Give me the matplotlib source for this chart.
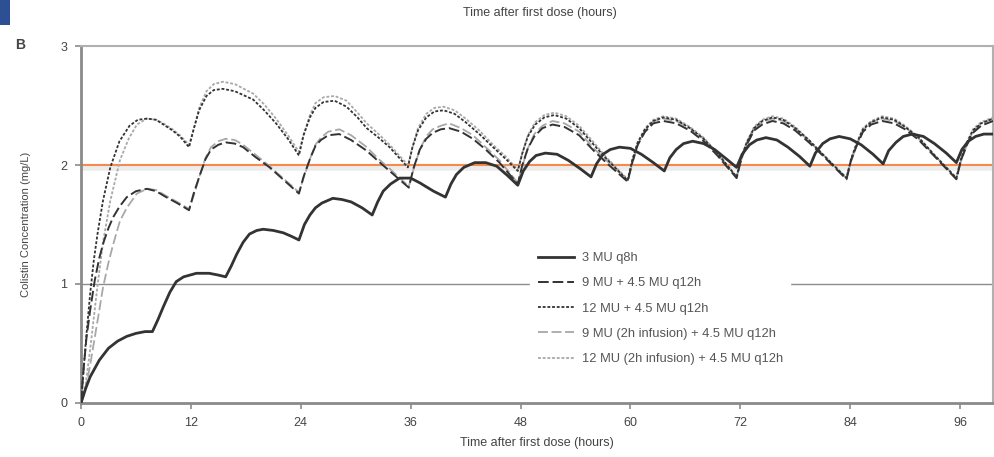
import matplotlib
matplotlib.use("Agg")
import matplotlib.pyplot as plt
from matplotlib.patches import Rectangle

plt.rcParams['font.family'] = ['Liberation Sans', 'DejaVu Sans']

# ---------------- data ----------------
t_q8 = [0, 0.5, 1, 2, 3, 4, 5, 6, 7, 7.8,
        8.4, 9.0, 9.7, 10.4, 11.2, 12.6, 14.0, 15.0, 15.8,
        16.4, 17.0, 17.7, 18.4, 19.2, 19.9, 21.0, 22.1, 23.0, 23.8,
        24.4, 25.0, 25.6, 26.3, 27.5, 28.5, 29.5, 30.7, 31.8,
        32.4, 33.0, 33.8, 34.8, 36.0, 37.0, 38.5, 39.8,
        40.4, 41.0, 41.8, 43.0, 44.2, 45.4, 46.6, 47.7,
        48.3, 49.0, 49.7, 50.7, 52.0, 53.2, 54.5, 55.7,
        56.3, 57.0, 57.8, 58.8, 60.0, 61.2, 62.5, 63.7,
        64.3, 65.0, 65.8, 66.8, 68.0, 69.2, 70.5, 71.6,
        72.2, 73.0, 73.8, 74.8, 76.0, 77.2, 78.5, 79.6,
        80.2, 81.0, 81.8, 82.8, 84.0, 85.2, 86.5, 87.6,
        88.2, 89.0, 89.8, 90.8, 92.0, 93.2, 94.5, 95.6,
        96.2, 96.9, 97.7, 98.6, 99.6]
c_q8 = [0, 0.12, 0.22, 0.36, 0.46, 0.52, 0.56, 0.585, 0.60, 0.60,
        0.70, 0.81, 0.93, 1.02, 1.06, 1.09, 1.09, 1.075, 1.06,
        1.15, 1.25, 1.35, 1.42, 1.45, 1.46, 1.45, 1.43, 1.40, 1.37,
        1.50, 1.58, 1.64, 1.68, 1.72, 1.71, 1.69, 1.64, 1.58,
        1.69, 1.78, 1.84, 1.89, 1.89, 1.85, 1.78, 1.73,
        1.84, 1.92, 1.98, 2.02, 2.02, 1.99, 1.91, 1.83,
        1.95, 2.03, 2.08, 2.10, 2.09, 2.04, 1.97, 1.90,
        2.01, 2.09, 2.13, 2.15, 2.14, 2.09, 2.02, 1.95,
        2.06, 2.13, 2.18, 2.20, 2.18, 2.13, 2.05, 1.98,
        2.09, 2.17, 2.21, 2.23, 2.21, 2.15, 2.07, 1.99,
        2.10, 2.18, 2.22, 2.24, 2.22, 2.17, 2.09, 2.01,
        2.12, 2.19, 2.24, 2.26, 2.24, 2.18, 2.10, 2.02,
        2.13, 2.20, 2.24, 2.26, 2.26]

t_9mu = [0, 0.3, 0.6, 1.0, 1.5, 2.0, 2.5, 3.0, 3.5, 4.2, 5.0, 6.0, 7.2, 8.2, 9.3, 10.5, 11.8,
         12.3, 13.0, 13.6, 14.2, 15.0, 15.8, 16.8, 17.7, 19.0, 20.6, 22.2, 23.8,
         24.3, 25.0, 25.6, 26.2, 27.0, 28.2, 29.5, 31.2, 32.5, 33.7, 35.8,
         36.3, 37.0, 37.7, 38.4, 39.3, 40.2, 41.5, 42.8, 44.2, 45.7, 47.7,
         48.2, 48.8, 49.5, 50.4, 51.5, 52.8, 54.4, 56.0, 57.5, 59.7,
         60.2, 60.8, 61.6, 62.5, 63.6, 65.0, 66.5, 68.0, 69.5, 71.6,
         72.1, 72.7, 73.5, 74.4, 75.5, 76.7, 78.0, 79.5, 81.0, 83.6,
         84.1, 84.7, 85.4, 86.3, 87.5, 88.8, 90.0, 91.5, 93.0, 95.6,
         96.1, 96.7, 97.4, 98.3, 99.6]
c_9mu = [0, 0.30, 0.55, 0.78, 1.03, 1.22, 1.36, 1.47, 1.56, 1.65, 1.73, 1.78, 1.80, 1.78, 1.73, 1.68, 1.62,
         1.76, 1.92, 2.05, 2.13, 2.17, 2.19, 2.18, 2.15, 2.07, 1.98, 1.87, 1.76,
         1.90, 2.05, 2.16, 2.21, 2.25, 2.26, 2.21, 2.12, 2.03, 1.95, 1.81,
         1.97, 2.13, 2.22, 2.27, 2.30, 2.31, 2.28, 2.22, 2.13, 2.02, 1.84,
         2.00, 2.14, 2.24, 2.31, 2.34, 2.32, 2.25, 2.12, 2.01, 1.86,
         2.02, 2.17, 2.28, 2.35, 2.37, 2.35, 2.29, 2.20, 2.08, 1.89,
         2.05, 2.17, 2.29, 2.34, 2.37, 2.35, 2.29, 2.19, 2.08, 1.88,
         2.04, 2.16, 2.28, 2.34, 2.37, 2.35, 2.30, 2.21, 2.09, 1.88,
         2.04, 2.16, 2.27, 2.33, 2.37]

t_12mu = [0, 0.3, 0.6, 1.0, 1.4, 1.8, 2.4, 3.2, 4.2, 5.3, 6.2, 7.2, 8.2, 9.0, 10.0, 10.8, 11.8,
          12.3, 12.9, 13.7, 14.5, 15.5, 16.8, 18.8, 20.0, 21.3, 22.6, 23.8,
          24.3, 25.0, 25.6, 26.5, 27.7, 29.0, 30.2, 31.2, 32.5, 33.7, 35.7,
          36.2, 36.8, 37.7, 38.6, 39.6, 40.8, 42.0, 43.5, 45.0, 46.4, 47.7,
          48.2, 48.8, 49.6, 50.6, 51.7, 53.0, 54.4, 56.0, 57.3, 59.7,
          60.2, 60.8, 61.6, 62.5, 63.6, 65.0, 66.5, 68.0, 69.5, 71.6,
          72.1, 72.7, 73.5, 74.4, 75.5, 76.7, 78.0, 79.5, 81.0, 83.6,
          84.1, 84.7, 85.4, 86.3, 87.5, 88.8, 90.0, 91.5, 93.0, 95.6,
          96.1, 96.7, 97.4, 98.3, 99.6]
c_12mu = [0, 0.30, 0.58, 0.92, 1.20, 1.42, 1.70, 1.98, 2.20, 2.33, 2.38, 2.39, 2.38, 2.34, 2.29, 2.24, 2.15,
          2.30, 2.46, 2.58, 2.63, 2.64, 2.62, 2.55, 2.46, 2.35, 2.22, 2.08,
          2.25, 2.40, 2.48, 2.53, 2.54, 2.49, 2.40, 2.31, 2.23, 2.15, 1.98,
          2.15, 2.29, 2.40, 2.45, 2.46, 2.43, 2.36, 2.26, 2.15, 2.05, 1.95,
          2.10, 2.24, 2.34, 2.40, 2.42, 2.39, 2.31, 2.17, 2.06, 1.87,
          2.04, 2.19, 2.30, 2.37, 2.40, 2.38, 2.31, 2.22, 2.10, 1.90,
          2.06, 2.19, 2.31, 2.37, 2.40, 2.38, 2.31, 2.21, 2.09, 1.89,
          2.05, 2.18, 2.30, 2.36, 2.40, 2.38, 2.32, 2.23, 2.10, 1.89,
          2.05, 2.18, 2.29, 2.35, 2.39]

t_9mu_inf = [0, 0.5, 1.0, 1.5, 2.0, 2.4, 3.0, 3.5, 4.25, 5.0, 6.1, 7.2, 8.2, 9.3, 10.5, 11.8,
             12.3, 13.0, 13.6, 14.2, 15.0, 15.8, 16.8, 17.7, 19.0, 20.6, 22.2, 23.8,
             24.3, 25.0, 25.6, 26.2, 27.0, 28.2, 29.5, 31.2, 32.5, 33.7, 35.8,
             36.3, 37.0, 37.7, 38.4, 39.3, 40.2, 41.5, 42.8, 44.2, 45.7, 47.7,
             48.2, 48.8, 49.5, 50.4, 51.5, 52.8, 54.4, 56.0, 57.5, 59.7,
             60.2, 60.8, 61.6, 62.5, 63.6, 65.0, 66.5, 68.0, 69.5, 71.6,
             72.1, 72.7, 73.5, 74.4, 75.5, 76.7, 78.0, 79.5, 81.0, 83.6,
             84.1, 84.7, 85.4, 86.3, 87.5, 88.8, 90.0, 91.5, 93.0, 95.6,
             96.1, 96.7, 97.4, 98.3, 99.6]
c_9mu_inf = [0, 0.12, 0.32, 0.55, 0.78, 0.97, 1.18, 1.33, 1.53, 1.64, 1.76, 1.80, 1.79, 1.74, 1.69, 1.63,
             1.74, 1.92, 2.06, 2.15, 2.20, 2.22, 2.21, 2.17, 2.09, 1.99, 1.88, 1.77,
             1.89, 2.05, 2.17, 2.23, 2.28, 2.30, 2.25, 2.15, 2.05, 1.97, 1.82,
             1.96, 2.13, 2.24, 2.30, 2.33, 2.35, 2.31, 2.25, 2.15, 2.04, 1.85,
             1.99, 2.14, 2.26, 2.33, 2.37, 2.35, 2.28, 2.14, 2.03, 1.87,
             2.01, 2.17, 2.29, 2.37, 2.39, 2.37, 2.31, 2.22, 2.09, 1.90,
             2.04, 2.17, 2.30, 2.36, 2.39, 2.37, 2.31, 2.20, 2.09, 1.89,
             2.03, 2.16, 2.29, 2.36, 2.39, 2.37, 2.32, 2.22, 2.10, 1.89,
             2.03, 2.16, 2.28, 2.35, 2.39]

t_12mu_inf = [0, 0.5, 1.0, 1.7, 2.4, 3.2, 4.25, 5.2, 6.1, 7.2, 8.2, 9.0, 10.0, 10.8, 11.8,
              12.3, 12.9, 13.7, 14.5, 15.5, 16.8, 18.8, 20.0, 21.3, 22.6, 23.8,
              24.3, 25.0, 25.6, 26.5, 27.7, 29.0, 30.2, 31.2, 32.5, 33.7, 35.7,
              36.2, 36.8, 37.7, 38.6, 39.6, 40.8, 42.0, 43.5, 45.0, 46.4, 47.7,
              48.2, 48.8, 49.6, 50.6, 51.7, 53.0, 54.4, 56.0, 57.3, 59.7,
              60.2, 60.8, 61.6, 62.5, 63.6, 65.0, 66.5, 68.0, 69.5, 71.6,
              72.1, 72.7, 73.5, 74.4, 75.5, 76.7, 78.0, 79.5, 81.0, 83.6,
              84.1, 84.7, 85.4, 86.3, 87.5, 88.8, 90.0, 91.5, 93.0, 95.6,
              96.1, 96.7, 97.4, 98.3, 99.6]
c_12mu_inf = [0, 0.15, 0.45, 0.92, 1.35, 1.70, 2.04, 2.22, 2.34, 2.39, 2.38, 2.35, 2.30, 2.25, 2.17,
              2.30, 2.48, 2.62, 2.68, 2.70, 2.68, 2.60, 2.51, 2.39, 2.25, 2.11,
              2.25, 2.42, 2.52, 2.57, 2.58, 2.54, 2.44, 2.35, 2.26, 2.17, 2.00,
              2.15, 2.31, 2.43, 2.48, 2.49, 2.46, 2.39, 2.29, 2.17, 2.07, 1.96,
              2.10, 2.25, 2.36, 2.42, 2.44, 2.41, 2.33, 2.19, 2.07, 1.88,
              2.04, 2.19, 2.31, 2.38, 2.41, 2.39, 2.32, 2.23, 2.10, 1.90,
              2.06, 2.19, 2.32, 2.38, 2.41, 2.39, 2.32, 2.21, 2.09, 1.89,
              2.05, 2.18, 2.31, 2.37, 2.41, 2.39, 2.33, 2.23, 2.10, 1.89,
              2.05, 2.18, 2.30, 2.36, 2.40]

labels = ["3 MU q8h", "9 MU + 4.5 MU q12h", "12 MU + 4.5 MU q12h",
          "9 MU (2h infusion) + 4.5 MU q12h", "12 MU (2h infusion) + 4.5 MU q12h"]
x_ticks = [0, 12, 24, 36, 48, 60, 72, 84, 96]
y_ticks = [0, 1, 2, 3]
target_level = 2
ref_level = 1
x_label = "Time after first dose (hours)"
y_label = "Colistin Concentration (mg/L)"

# ---------------- figure ----------------
fig = plt.figure(figsize=(9.94, 4.57), dpi=100)
ax = fig.add_axes([0.0815, 0.1182, 0.9175, 0.7811])

dark = "#333333"
light = "#a8a8a8"
spine_c = "#8a8a8a"

# reference lines
ax.axhline(ref_level, color="#8c8c8c", lw=1.0, zorder=1)
ax.axhline(target_level - 0.025, color="#ececec", lw=4, zorder=1)
ax.axhline(target_level, color="#f58a4b", lw=1.5, zorder=2)

l5, = ax.plot(t_12mu_inf, c_12mu_inf, color=light, lw=1.3, dashes=(1.6, 1.0), zorder=3)
l4, = ax.plot(t_9mu_inf, c_9mu_inf, color=light, lw=1.3, dashes=(5.5, 2.0), zorder=3)
l3, = ax.plot(t_12mu, c_12mu, color=dark, lw=1.3, dashes=(1.6, 1.0), zorder=4)
l2, = ax.plot(t_9mu, c_9mu, color=dark, lw=1.4, dashes=(5.5, 2.0), zorder=4)
l1, = ax.plot(t_q8, c_q8, color=dark, lw=2.0, solid_joinstyle="round", zorder=5)

ax.set_xlim(0, 99.6)
ax.set_ylim(0, 3)
ax.set_xticks(x_ticks)
ax.set_yticks(y_ticks)
ax.tick_params(axis="both", direction="out", length=4, width=1.2, color=spine_c,
               labelsize=9, labelcolor="#444444", pad=6)

for s in ["left", "bottom"]:
    ax.spines[s].set_color(spine_c)
    ax.spines[s].set_linewidth(2.0)
for s in ["top", "right"]:
    ax.spines[s].set_color("#b0b0b0")
    ax.spines[s].set_linewidth(1.5)

ax.set_xlabel(x_label, fontsize=9, color="#444444", labelpad=6)
ax.set_ylabel(y_label, fontsize=8, color="#444444", labelpad=21)

leg = ax.legend([l1, l2, l3, l4, l5], labels, loc="upper left",
                bbox_to_anchor=(0.488, 0.455), fontsize=9.3, frameon=True,
                facecolor="white", edgecolor="white", framealpha=1.0,
                handlelength=2.8, handletextpad=0.6, labelspacing=1.02,
                borderpad=0.6, borderaxespad=0.3, fancybox=False)
for txt in leg.get_texts():
    txt.set_color("#555555")
leg.set_zorder(6)

# top caption and panel letter
fig.text(0.543, 0.972, x_label, ha="center", va="center", fontsize=9, color="#444444")
fig.text(0.015, 0.902, "B", ha="left", va="center", fontsize=10, fontweight="bold", color="#444444")
fig.patches.append(Rectangle((0, 0.945), 0.0105, 0.055, transform=fig.transFigure,
                             facecolor="#2d4f93", edgecolor="none"))

fig.savefig("out.png", dpi=100)
